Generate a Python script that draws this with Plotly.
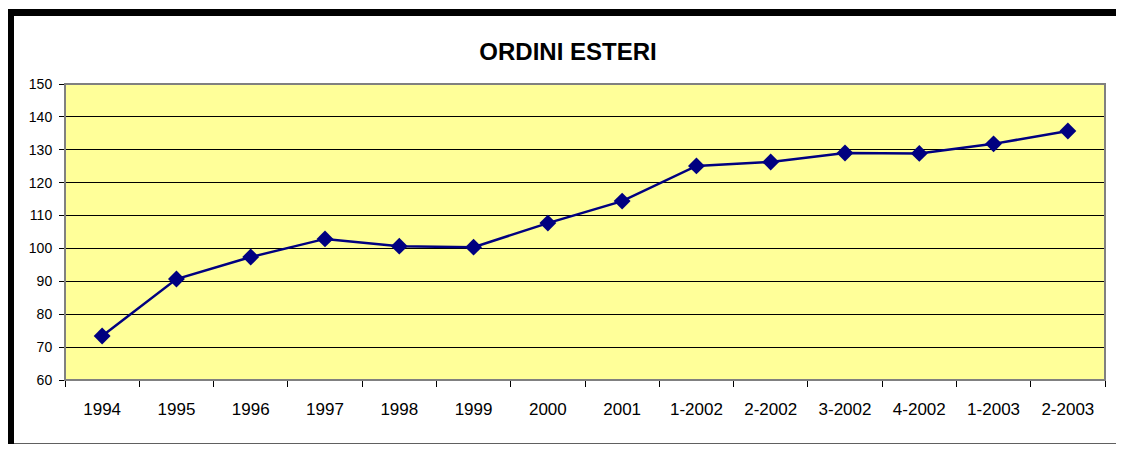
import plotly.graph_objects as go

categories = ["1994", "1995", "1996", "1997", "1998", "1999", "2000", "2001",
              "1-2002", "2-2002", "3-2002", "4-2002", "1-2003", "2-2003"]
values = [73.4, 90.7, 97.4, 102.9, 100.7, 100.4, 107.7, 114.4,
          125.1, 126.3, 129.0, 128.9, 131.8, 135.7]
y_ticks = [60, 70, 80, 90, 100, 110, 120, 130, 140, 150]

# page has an 8px body margin on every side; keep the figure inside the window
OFF = 8
W, H = 1124 - 2 * OFF, 452 - 2 * OFF
L, T = 65 - OFF, 84 - OFF
R = (1124 - OFF) - 1105
B = (452 - OFF) - 380
pw, ph = W - L - R, H - T - B

def px(x):
    return (x - OFF - L) / pw

def py(y):
    return (H - B - (y - OFF)) / ph

fig = go.Figure()
fig.add_trace(go.Scatter(
    x=categories, y=values, mode="lines+markers",
    line=dict(color="#000080", width=2.5),
    marker=dict(symbol="diamond", size=13, color="#000080"),
    showlegend=False,
))

shapes = [
    dict(type="rect", xref="paper", yref="paper", x0=0, x1=1, y0=0, y1=1,
         line=dict(color="#808080", width=2), layer="above"),
    dict(type="rect", xref="paper", yref="paper", x0=px(7), x1=px(1125),
         y0=py(16), y1=py(9), fillcolor="black", line=dict(width=0)),
    dict(type="rect", xref="paper", yref="paper", x0=px(7), x1=px(14),
         y0=py(453), y1=py(9), fillcolor="black", line=dict(width=0)),
    dict(type="line", xref="paper", yref="paper", x0=px(14), x1=px(1125),
         y0=py(443.5), y1=py(443.5), line=dict(color="#606060", width=1)),
]

fig.update_layout(
    width=W, height=H,
    margin=dict(l=L, r=R, t=T, b=B),
    paper_bgcolor="white",
    plot_bgcolor="#FFFF99",
    font=dict(family="Arial, Liberation Sans, sans-serif", size=14, color="black"),
    title=dict(text="<b>ORDINI ESTERI</b>", x=(568 - OFF) / W, xanchor="center",
               y=1 - (52 - OFF) / H, yanchor="middle",
               font=dict(size=24, color="black")),
    shapes=shapes,
    xaxis=dict(
        type="category", tickson="boundaries", ticks="outside", ticklen=6,
        tickcolor="black", showline=True, linecolor="black", linewidth=1,
        showgrid=False, zeroline=False, range=[-0.5, len(categories) - 0.5],
        tickfont=dict(size=17), ticklabelstandoff=14,
    ),
    yaxis=dict(
        range=[60, 150], tickvals=y_ticks, ticks="outside", ticklen=5,
        tickcolor="black", showline=True, linecolor="black", linewidth=1,
        showgrid=True, gridcolor="black", gridwidth=1, zeroline=False,
        tickfont=dict(size=14), ticklabelstandoff=4,
    ),
)

fig.write_html("out.html")
